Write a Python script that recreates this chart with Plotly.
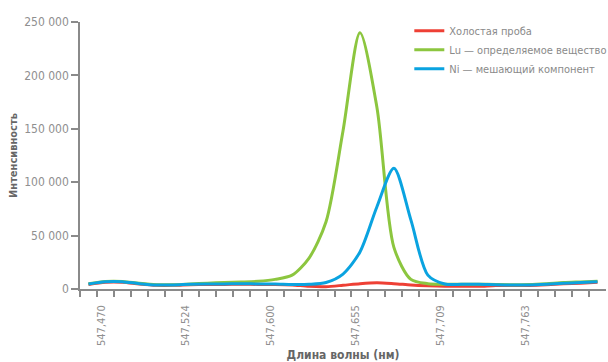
import plotly.graph_objects as go

# category boundaries (ticks) and labels
tick_labels = ["", "547,470", "", "", "", "", "547,524", "", "", "", "",
               "547,600", "", "", "", "", "547,655", "", "", "", "",
               "547,709", "", "", "", "", "547,763", "", "", "", ""]
tick_pos = list(range(len(tick_labels)))
# data points sit in the middle of each category
x_pts = [p + 0.5 for p in tick_pos]

blank = [4200, 6300, 6300, 4600, 3400, 3400, 4000, 4300, 4300, 4500, 4300,
         4300, 3800, 2500, 2200, 3500, 5000, 5800, 5000, 3800, 3000,
         2500, 2500, 2500, 3300, 3300, 3300, 3900, 4800, 5500, 6300]
lu = [5000, 7100, 7100, 5300, 4000, 4000, 4700, 5500, 6000, 6500, 7200,
      9000, 13000, 29000, 63000, 148000, 240000, 170000, 39000, 9000, 5000,
      4500, 4500, 4500, 4200, 4000, 4200, 5000, 6000, 6600, 7200]
ni = [4700, 6800, 6800, 5000, 3750, 3750, 4400, 4700, 4700, 5000, 4700,
      4700, 4200, 4400, 6100, 14000, 34700, 77000, 113000, 64700, 13000,
      4700, 4400, 4400, 4000, 3750, 3750, 4400, 5300, 6000, 6800]

y_vals = [0, 50000, 100000, 150000, 200000, 250000]
y_text = ["0", "50 000", "100 000", "150 000", "200 000", "250 000"]

series = [
    ("Холостая проба", blank, "#ee4035"),
    ("Lu — определяемое вещество", lu, "#8cc63f"),
    ("Ni — мешающий компонент", ni, "#0aa3e0"),
]

FONT = "DejaVu Sans Condensed, sans-serif"

fig = go.Figure()
for name, vals, col in series:
    fig.add_trace(go.Scatter(
        x=x_pts, y=vals, name=name, mode="lines",
        line=dict(color=col, width=3, shape="spline", smoothing=0.8),
    ))

fig.update_layout(
    width=608, height=362,
    margin=dict(l=80, r=2, t=22, b=73, autoexpand=False),
    paper_bgcolor="white", plot_bgcolor="white",
    font=dict(family=FONT, size=12, color="#8f8f8f"),
    showlegend=True,
    legend=dict(x=1.012, y=1.022, xanchor="right", yanchor="top",
                font=dict(family=FONT, size=11, color="#8a8a8a"),
                bgcolor="rgba(0,0,0,0)", tracegroupgap=0, itemwidth=30),
)
fig.update_xaxes(
    range=[0, 31], tickmode="array", tickvals=tick_pos, ticktext=tick_labels,
    tickangle=-90, ticks="outside", ticklen=6, tickcolor="#8a8a8a", tickwidth=1.5,
    tickfont=dict(size=11), ticklabelshift=4, ticklabelstandoff=4,
    showline=True, linecolor="#8a8a8a", linewidth=1.5, showgrid=False, zeroline=False,
    automargin=False,
    title=dict(text="<b>Длина волны (нм)</b>", font=dict(family=FONT, size=12, color="#666666"), standoff=6),
)
fig.update_yaxes(
    range=[0, 250000], tickmode="array", tickvals=y_vals, ticktext=y_text,
    ticks="outside", ticklen=7, tickcolor="#8a8a8a", tickwidth=1.5,
    showline=True, linecolor="#8a8a8a", linewidth=1.5, showgrid=False, zeroline=False,
    automargin=False,
    title=dict(text="<b>Интенсивность</b>", font=dict(family=FONT, size=11, color="#666666"), standoff=4),
)

fig.write_html("out.html")
